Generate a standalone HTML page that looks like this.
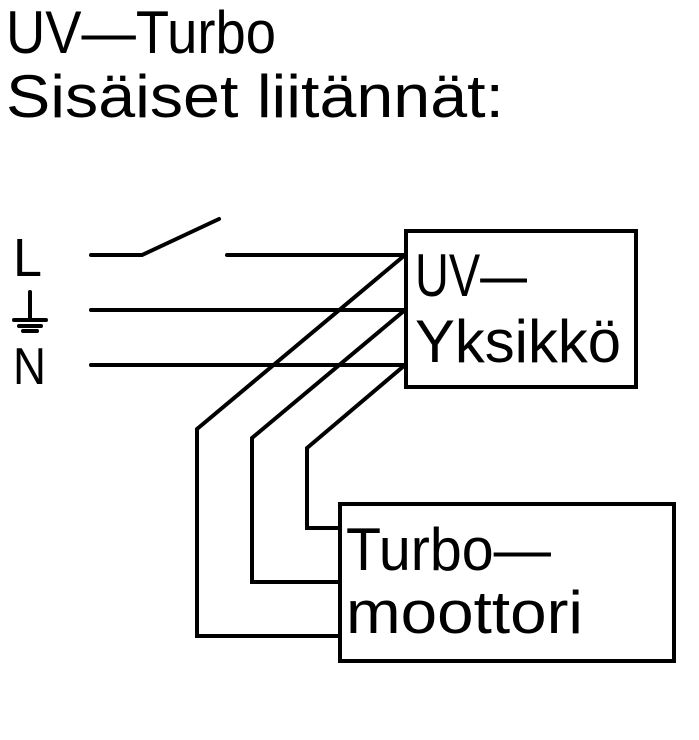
<!DOCTYPE html>
<html><head><meta charset="utf-8"><style>
html,body{margin:0;padding:0;background:#fff;width:699px;height:740px;overflow:hidden}
svg{display:block}
text{font-family:"Liberation Sans",sans-serif;fill:#000}
</style></head><body>
<svg width="699" height="740" viewBox="0 0 699 740" xmlns="http://www.w3.org/2000/svg">
<g font-size="60">
<text x="6" y="53" textLength="270" lengthAdjust="spacingAndGlyphs">UV—Turbo</text>
<text x="6" y="117" textLength="498" lengthAdjust="spacingAndGlyphs">Sisäiset  liitännät:</text>
<text x="415" y="296" textLength="112" lengthAdjust="spacingAndGlyphs">UV—</text>
<text x="415" y="362" textLength="206" lengthAdjust="spacingAndGlyphs">Yksikkö</text>
<text x="346" y="570" textLength="205" lengthAdjust="spacingAndGlyphs">Turbo—</text>
<text x="346" y="633" textLength="237" lengthAdjust="spacingAndGlyphs">moottori</text>
<text x="13" y="276" font-size="54" textLength="29" lengthAdjust="spacingAndGlyphs">L</text>
<text x="13" y="384" font-size="52" textLength="33" lengthAdjust="spacingAndGlyphs">N</text>
</g>
<g stroke="#000" stroke-width="4" fill="none" stroke-linecap="round" stroke-linejoin="miter">
<rect x="406" y="231" width="230" height="156"/>
<rect x="340" y="504" width="334" height="157"/>
<polyline points="91,255 142,255 219,219"/>
<line x1="227" y1="255" x2="405" y2="255"/>
<line x1="91" y1="310" x2="405" y2="310"/>
<line x1="91" y1="365" x2="405" y2="365"/>
<polyline points="405,255 197,429 197,636 340,636"/>
<polyline points="405,310 252,438 252,582 340,582"/>
<polyline points="405,365 307,448 307,528 340,528"/>
<line x1="30" y1="292" x2="30" y2="318"/>
<line x1="14" y1="320" x2="46" y2="320" stroke-width="4"/>
<line x1="19" y1="326" x2="41" y2="326" stroke-width="4"/>
<line x1="23" y1="331" x2="37" y2="331" stroke-width="4"/>
</g>
</svg>
</body></html>
